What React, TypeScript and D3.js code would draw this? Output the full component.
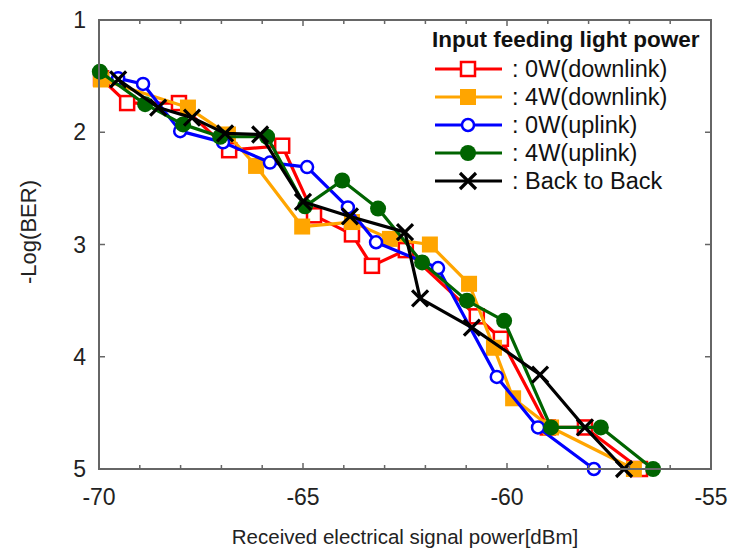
import React from "react";
import * as d3 from "d3";

const xTicks = [-70, -65, -60, -55];
const yTicks = [1, 2, 3, 4, 5];

const red0Wdown: [number, number][] = [
  [-69.95, 1.52], [-69.31, 1.74], [-68.04, 1.74], [-66.81, 2.16], [-65.51, 2.12],
  [-64.73, 2.74], [-63.8, 2.91], [-63.31, 3.19], [-62.48, 3.05], [-60.74, 3.64],
  [-60.15, 3.84], [-59.0, 4.63], [-58.09, 4.63], [-56.74, 5.0],
];
const orange4Wdown: [number, number][] = [
  [-69.95, 1.53], [-67.82, 1.78], [-66.84, 2.02], [-66.15, 2.3], [-65.02, 2.84],
  [-63.8, 2.8], [-62.87, 2.95], [-61.89, 3.0], [-60.93, 3.35], [-60.32, 3.92],
  [-59.85, 4.37], [-58.92, 4.63], [-56.89, 5.0],
];
const blue0Wup: [number, number][] = [
  [-69.53, 1.52], [-68.92, 1.57], [-68.01, 1.99], [-66.96, 2.09], [-65.81, 2.27],
  [-64.9, 2.31], [-63.9, 2.67], [-63.21, 2.98], [-61.69, 3.21], [-60.25, 4.18],
  [-59.24, 4.63], [-57.87, 5.0],
];
const green4Wup: [number, number][] = [
  [-69.98, 1.46], [-68.87, 1.75], [-67.94, 1.93], [-67.03, 2.04], [-65.88, 2.04],
  [-64.95, 2.66], [-64.04, 2.43], [-63.16, 2.68], [-62.08, 3.16], [-60.98, 3.5],
  [-60.07, 3.68], [-58.92, 4.63], [-57.7, 4.63], [-56.42, 5.0],
];
const blackB2B: [number, number][] = [
  [-69.53, 1.53], [-68.55, 1.78], [-67.72, 1.87], [-66.91, 2.01], [-66.05, 2.02],
  [-65.0, 2.62], [-63.85, 2.75], [-62.5, 2.89], [-62.13, 3.48], [-60.86, 3.74],
  [-59.19, 4.16], [-58.09, 4.63], [-57.13, 5.0],
];

const seriesNames = [": 0W(downlink)", ": 4W(downlink)", ": 0W(uplink)", ": 4W(uplink)", ": Back to Back"];
const seriesColors = ["#ff0000", "#ffa500", "#0000ff", "#006400", "#000000"];
const seriesMarkers = ["squareOpen", "squareFilled", "circleOpen", "circleFilled", "cross"];
const seriesData = [red0Wdown, orange4Wdown, blue0Wup, green4Wup, blackB2B];

const W = 729, H = 551;
const L = 99, R = 711, T = 20, B = 469;

function Marker({ type, color, x, y }: { type: string; color: string; x: number; y: number }) {
  if (type === "squareOpen")
    return <rect x={x - 7} y={y - 7} width={14} height={14} fill="white" stroke={color} strokeWidth={2.5} />;
  if (type === "squareFilled")
    return <rect x={x - 8} y={y - 8} width={16} height={16} fill={color} />;
  if (type === "circleOpen")
    return <circle cx={x} cy={y} r={6} fill="white" stroke={color} strokeWidth={2.5} />;
  if (type === "circleFilled")
    return <circle cx={x} cy={y} r={8} fill={color} />;
  return (
    <path d={`M${x - 8},${y - 8}L${x + 8},${y + 8}M${x - 8},${y + 8}L${x + 8},${y - 8}`} stroke={color} strokeWidth={3.2} />
  );
}

export default function App() {
  const x = d3.scaleLinear().domain([-70, -55]).range([L, R]);
  const y = d3.scaleLinear().domain([1, 5]).range([T, B]);
  const line = d3.line<[number, number]>().x((d) => x(d[0])).y((d) => y(d[1]));
  const minor = d3.range(-70, -54, 1);
  const font = "Liberation Sans, Arial, sans-serif";
  const axisColor = "#666";

  return (
    <svg width={W} height={H} style={{ position: "absolute", left: 0, top: 0, background: "white" }}>
      {seriesData.map((data, i) => (
        <g key={i}>
          <path d={line(data) || ""} fill="none" stroke={seriesColors[i]} strokeWidth={3.2} strokeLinejoin="round" />
          {data.map((d, j) => (
            <Marker key={j} type={seriesMarkers[i]} color={seriesColors[i]} x={x(d[0])} y={y(d[1])} />
          ))}
        </g>
      ))}
      <rect x={L} y={T} width={R - L} height={B - T} fill="none" stroke={axisColor} strokeWidth={2} />
      {minor.map((v) => {
        const len = v % 5 === 0 ? 6 : 4;
        return (
          <g key={v}>
            <line x1={x(v)} x2={x(v)} y1={B} y2={B - len} stroke={axisColor} strokeWidth={1.5} />
            <line x1={x(v)} x2={x(v)} y1={T} y2={T + len} stroke={axisColor} strokeWidth={1.5} />
          </g>
        );
      })}
      {yTicks.map((v) => (
        <g key={v}>
          <line x1={L} x2={L + 6} y1={y(v)} y2={y(v)} stroke={axisColor} strokeWidth={1.5} />
          <line x1={R} x2={R - 6} y1={y(v)} y2={y(v)} stroke={axisColor} strokeWidth={1.5} />
          <text x={86} y={y(v)} dy="0.35em" textAnchor="end" fontFamily={font} fontSize={23} fill="#222">
            {v}
          </text>
        </g>
      ))}
      {xTicks.map((v) => (
        <text key={v} x={x(v)} y={497} dy="0.35em" textAnchor="middle" fontFamily={font} fontSize={23} fill="#222">
          {v}
        </text>
      ))}
      <text x={405} y={537} dy="0.35em" textAnchor="middle" fontFamily={font} fontSize={20.5} fill="#222">
        Received electrical signal power[dBm]
      </text>
      <text transform={`translate(28,${232}) rotate(-90)`} dy="0.35em" textAnchor="middle" fontFamily={font} fontSize={22} fill="#222">
        -Log(BER)
      </text>
      <text x={432} y={39} dy="0.35em" fontFamily={font} fontSize={22.5} fontWeight="bold" fill="#111">
        Input feeding light power
      </text>
      {seriesNames.map((name, i) => {
        const ly = 69 + i * 28;
        return (
          <g key={name}>
            <line x1={435} x2={502} y1={ly} y2={ly} stroke={seriesColors[i]} strokeWidth={3.2} />
            <Marker type={seriesMarkers[i]} color={seriesColors[i]} x={468} y={ly} />
            <text x={512} y={ly} dy="0.35em" fontFamily={font} fontSize={23.5} fill="#111">
              {name}
            </text>
          </g>
        );
      })}
    </svg>
  );
}
